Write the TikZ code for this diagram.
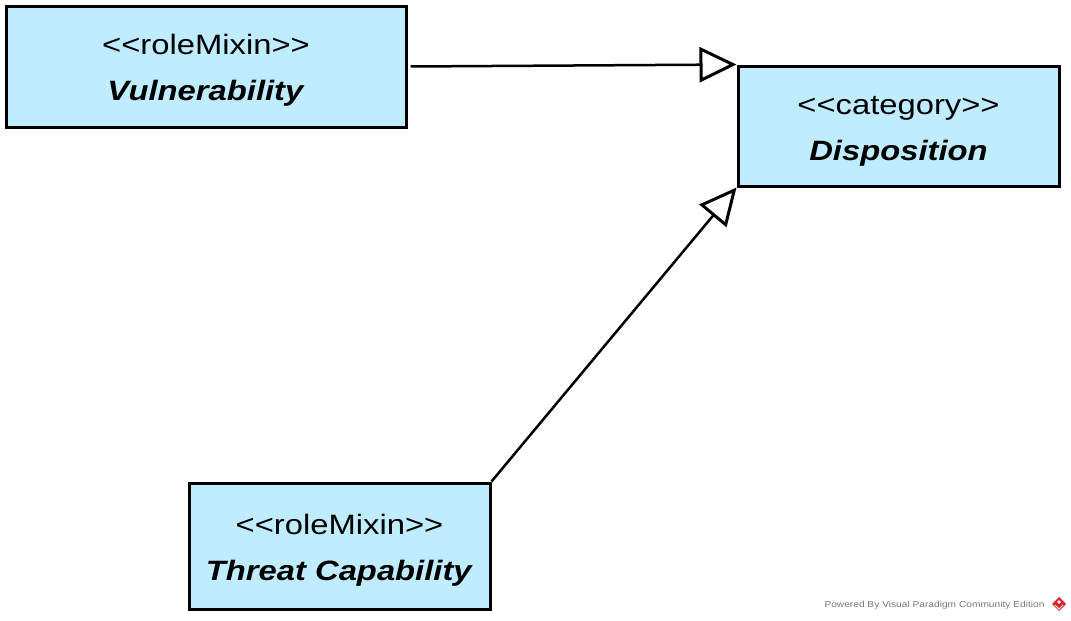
\documentclass[tikz,border=0pt]{standalone}
\usepackage{fontspec}
\setmainfont{Liberation Sans}[FakeStretch=1.17, Ligatures=TeXOff]
\usetikzlibrary{positioning}
\usetikzlibrary{arrows.meta}
\usepackage{xcolor}

\definecolor{classblue}{RGB}{192,236,255}
\definecolor{footgray}{RGB}{120,120,120}
\definecolor{vpred}{RGB}{222,36,44}

\newcommand{\toprule}{\rule{0pt}{28pt}}

\tikzset{
classbox/.style={draw=black, fill=classblue, line width=3pt, align=center, inner sep=0pt, font=\fontsize{28}{46}\selectfont},
generalization/.style={line width=2.5pt, -{Triangle[open, length=37pt, width=35pt, line width=3pt]}},
}

\begin{document}
\begin{tikzpicture}[x=1pt, y=-1pt]

\useasboundingbox (0,0) rectangle (1071,621);

\node[classbox, minimum width=400pt, minimum height=121pt] (vulnerability) at (206,66.5)
{\toprule<<roleMixin>>\\ \textbf{\textit{Vulnerability}}};

\node[classbox, minimum width=321pt, minimum height=120pt] (disposition) at (898.5,126)
{\toprule<<category>>\\ \textbf{\textit{Disposition}}};

\node[classbox, minimum width=301pt, minimum height=126pt] (threat) at (339.5,546)
{\toprule<<roleMixin>>\\ \textbf{\textit{Threat Capability}}};


\draw[generalization] (vulnerability.east) ++(3,0) coordinate (vulstart) -- (disposition.north west);

\draw[generalization] (threat.north east) -- (disposition.south west);


% footer
\node[footgray, font=\fontsize{8.7}{10}\selectfont, anchor=east] (footer) at (1048,605)
{Powered By\,\,Visual Paradigm Community Edition};

\fill[vpred] (1059,597) -- (1066,604) -- (1059,611) -- (1052,604) -- cycle;
\draw[white, line width=1pt] (1055,605) -- (1059,609) -- (1063,605);
\fill[white] (1059,602) circle [radius=1.8];

\end{tikzpicture}
\end{document}
